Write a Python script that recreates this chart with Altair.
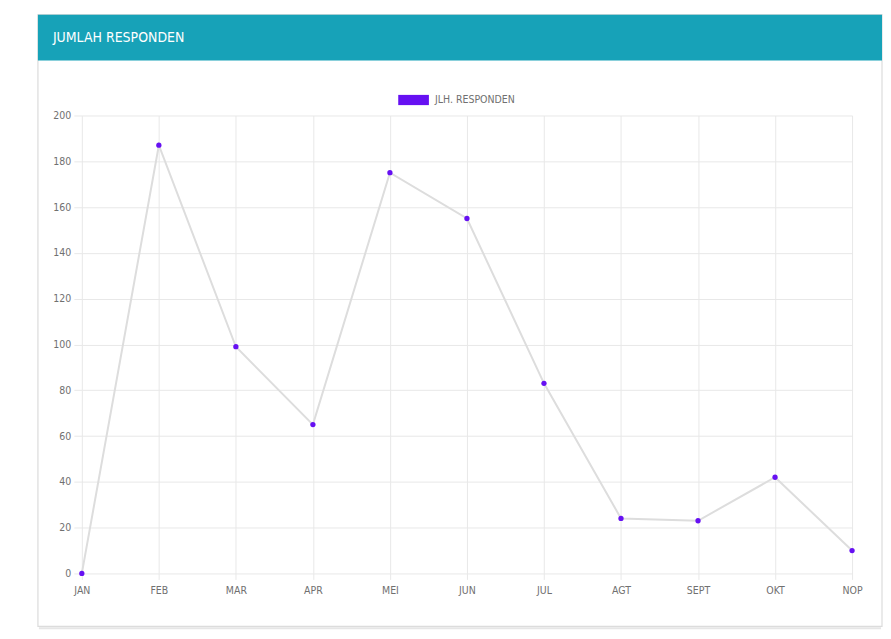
import altair as alt
import pandas as pd

months = ["JAN", "FEB", "MAR", "APR", "MEI", "JUN", "JUL", "AGT", "SEPT", "OKT", "NOP"]
responden = [0, 187, 99, 65, 175, 155, 83, 24, 23, 42, 10]
series_name = "JLH. RESPONDEN"
title_text = "JUMLAH RESPONDEN"

df = pd.DataFrame({"bulan": months, "jumlah": responden, "seri": [series_name] * len(months)})
one = pd.DataFrame({"k": [0]})

FONT = "DejaVu Sans Condensed, Liberation Sans, Arial, sans-serif"
W, H = 772, 459

x_enc = alt.X("bulan:N", sort=months, title=None,
              scale=alt.Scale(type="point", padding=0),
              axis=alt.Axis(labelAngle=0, grid=True, gridColor="#e8e8e8", domain=False,
                            ticks=True, tickSize=6, tickColor="#e8e8e8",
                            labelPadding=6, labelFont=FONT, labelFontSize=10.5, labelColor="#707070"))
y_enc = alt.Y("jumlah:Q", title=None,
              scale=alt.Scale(domain=[0, 200], nice=False),
              axis=alt.Axis(values=list(range(0, 201, 20)), grid=True, gridColor="#e8e8e8",
                            domain=False, tickSize=8, tickColor="#e8e8e8", labelPadding=3,
                            labelFont=FONT, labelFontSize=10.5, labelColor="#707070"))

line = alt.Chart(df).mark_line(color="#dddddd", strokeWidth=2).encode(x=x_enc, y=y_enc)
points = alt.Chart(df).mark_point(filled=True, size=28, opacity=1).encode(
    x=x_enc, y=y_enc,
    color=alt.Color("seri:N", title=None,
                    scale=alt.Scale(range=["#6610f2"]),
                    legend=alt.Legend(orient="none", legendX=322, legendY=-26, direction="horizontal",
                                      symbolType="M-1.5,-0.5H1.5V0.5H-1.5Z", symbolSize=420,
                                      symbolStrokeWidth=0, symbolOpacity=1,
                                      labelFont=FONT, labelFontSize=10.5, labelColor="#707070",
                                      labelOffset=11, padding=0)))

card = alt.Chart(one).mark_rect(filled=False, stroke="#dcdcdc", strokeWidth=1.2).encode(
    x=alt.value(-44), x2=alt.value(802), y=alt.value(-101), y2=alt.value(512))
shadow = alt.Chart(one).mark_rule(color="#e6e6e6", strokeWidth=2).encode(
    x=alt.value(-43), x2=alt.value(801), y=alt.value(514))
header = alt.Chart(one).mark_rect(color="#17a2b8").encode(
    x=alt.value(-44), x2=alt.value(802), y=alt.value(-101), y2=alt.value(-55))
title = alt.Chart(one).mark_text(align="left", baseline="middle", color="white",
                                 font=FONT, fontSize=14).encode(
    x=alt.value(-29), y=alt.value(-78), text=alt.value(title_text))

chart = alt.layer(card, shadow, header, title, line, points).properties(
    width=W, height=H,
    padding={"left": 29, "top": 5, "right": 0, "bottom": 0},
    background="white"
).configure_view(stroke=None)

chart.save("out.html", embed_options={"renderer": "svg", "actions": False})
